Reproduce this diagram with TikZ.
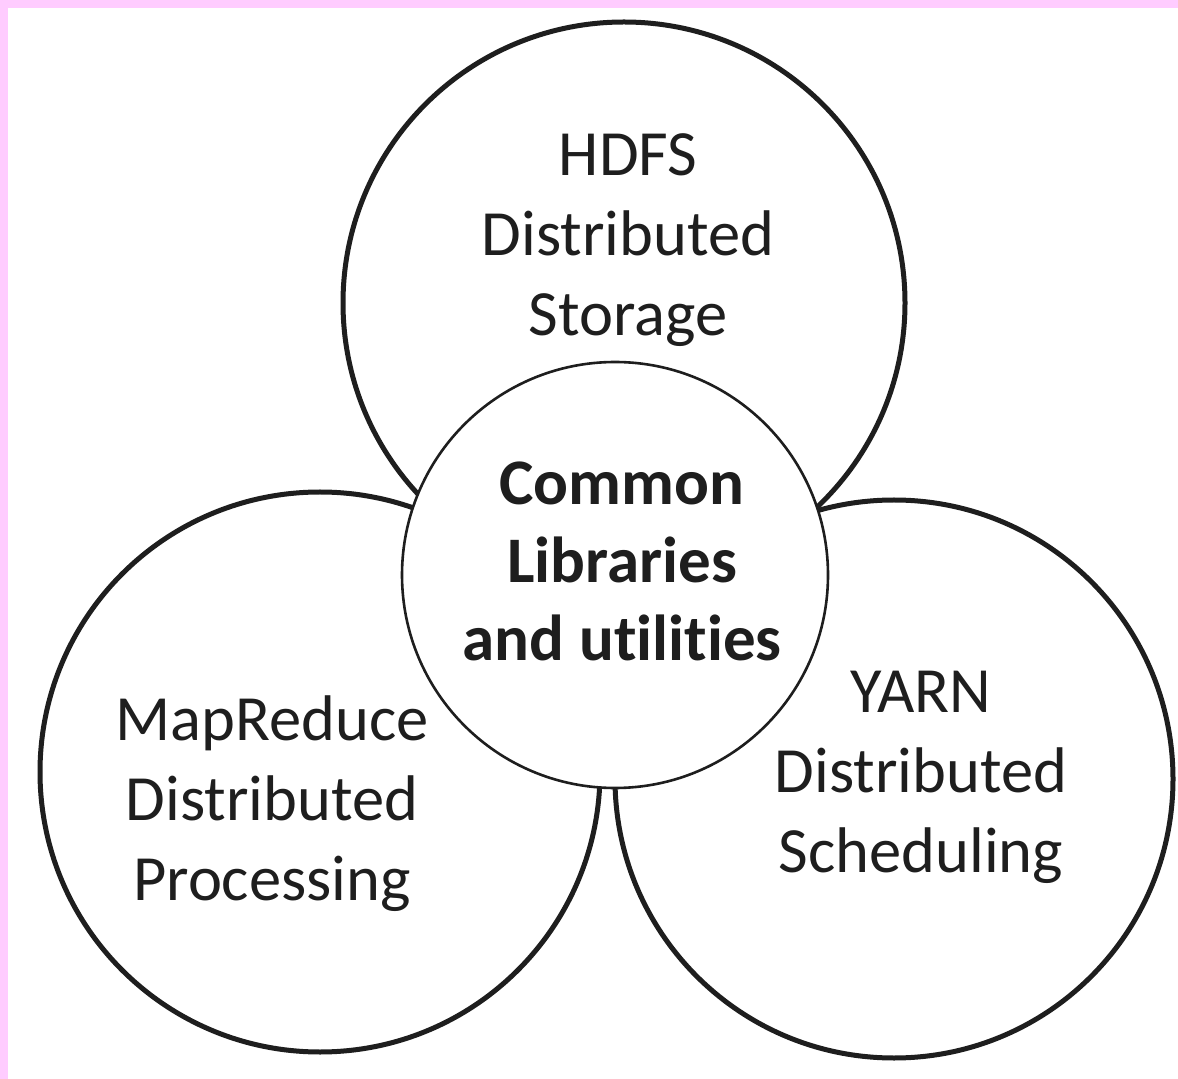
\documentclass[tikz,border=0pt]{standalone}
\usepackage{fontspec}
\setmainfont{Carlito}[Ligatures=NoCommon]
\definecolor{ink}{HTML}{1E1E1E}
\definecolor{frame}{HTML}{FFCCFF}
\begin{document}
\begin{tikzpicture}[x=0.5pt,y=-0.5pt,
  outer/.style={circle,draw=ink,line width=2.5pt,inner sep=0pt,minimum size=#1},
  core/.style={circle,draw=ink,fill=white,line width=1.3pt,inner sep=0pt,minimum size=#1},
  label/.style={align=center,text=ink,font=\fontsize{32.25pt}{40pt}\selectfont},
  corelabel/.style={align=center,text=ink,font=\fontsize{32.5pt}{39pt}\selectfont\bfseries}]
  % page and pink frame strips
  \fill[white] (0,0) rectangle (1178,1079);
  \useasboundingbox (0,0) rectangle (1178,1079);
  \fill[frame] (0,0) rectangle (1178,8);
  \fill[frame] (0,0) rectangle (8,1079);
  % three outer circles (diameter in pt = radius in px)
  \node[outer=281pt] (hdfs) at (624,303) {};
  \node[outer=280pt] (mapred) at (320,772) {};
  \node[outer=279pt] (yarn) at (894,779) {};
  % central circle covering the junctions
  \node[core=213pt] (common) at (615,575) {};
  % texts
  \node[label] (hdfsText) at (628,240) {HDFS\\Distributed\\Storage};
  \node[label] (mapredText) at (272,804) {MapReduce\\Distributed\\Processing};
  \node[label] (yarnText) at (921,777) {YARN\\Distributed\\Scheduling};
  \node[corelabel] (commonText) at (622,561) {Common\\Libraries\\and utilities};
\end{tikzpicture}
\end{document}
